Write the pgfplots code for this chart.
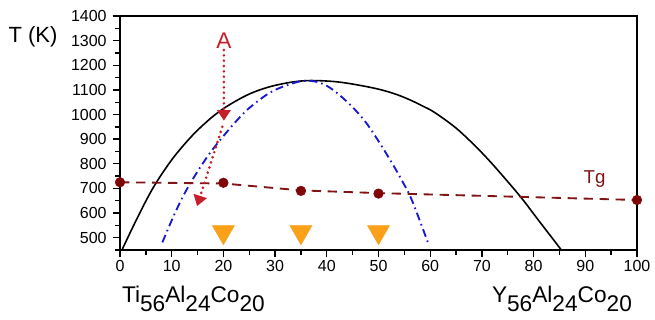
\documentclass[border=0pt]{standalone}
\usepackage{fontspec}
\setmainfont{Liberation Sans}
\usepackage{pgfplots}
\pgfplotsset{compat=1.18}
\usetikzlibrary{arrows.meta}
\definecolor{tgred}{rgb}{0.50,0.08,0.08}
\definecolor{mkred}{rgb}{0.50,0.02,0.02}
\definecolor{arrred}{rgb}{0.78,0.12,0.16}
\definecolor{triorange}{rgb}{0.98,0.63,0.10}
\definecolor{dblue}{rgb}{0.10,0.10,0.82}
\newcommand{\sub}[1]{\raisebox{-6.5pt}{#1}}
\begin{document}
\begin{tikzpicture}
\useasboundingbox (-90pt,-52.5pt) rectangle (401.25pt,187.5pt);
\begin{axis}[
  at={(0,0)}, anchor=south west,
  scale only axis, width=387.75pt, height=175.5pt,
  xmin=0, xmax=100, ymin=450, ymax=1400,
  xtick={0,10,...,100}, ytick={500,600,...,1400},
  minor xtick={5,15,...,95}, minor ytick={450,550,...,1350},
  tick pos=left, tick align=outside,
  major tick length=5.5pt, minor tick length=3.5pt,
  every tick/.style={line width=1pt, black},
  axis line style={line width=1.3pt},
  tick label style={font=\fontsize{12}{14}\selectfont},
  /pgf/number format/assume math mode=true,
  /pgf/number format/1000 sep={},
  xticklabel style={yshift=1pt},
  yticklabel style={xshift=-1pt},
]
% black curve
\addplot[black, line width=1.2pt, smooth, tension=0.6] coordinates {
 (0.4,451) (2.3,535) (4.3,620) (6.2,695) (8.2,762) (10.7,835) (14,915)
 (17,975) (19.4,1015) (22,1050) (25.2,1085) (28.5,1110) (31.7,1126)
 (34.5,1135) (37,1138) (40,1136) (42.7,1131) (46,1120) (49.8,1104)
 (53,1085) (55.7,1063) (58.5,1035) (60.8,1009) (64.7,950) (68,887)
 (71.2,818) (74.4,742) (77.7,660) (80.9,572) (85.3,452)};
% blue dash-dot
\addplot[dblue, line width=1.4pt, smooth, tension=0.6,
  dash pattern=on 6pt off 3pt on 1.2pt off 3pt] coordinates {
 (8.2,481) (10.1,575) (12,660) (14,735) (17.1,835) (20.1,915) (23,985)
 (25.2,1030) (29.1,1090) (33,1124) (36,1137) (38.8,1128) (41.4,1097)
 (44.7,1036) (47.3,975) (49.2,918) (51.2,852) (53.2,782) (54.5,733)
 (56.4,655) (59.6,478)};
% Tg line
\addplot[tgred, line width=1.4pt, dash pattern=on 7pt off 5pt] coordinates {
 (0,725) (20,720) (35,692) (50,681) (77,666) (100,653)};
\addplot[only marks, mark=*, mark size=3.6pt, mkred] coordinates {
 (0,725) (20,723) (35,690) (50,679) (100,653)};
% orange triangles
\addplot[only marks, mark=triangle*, mark size=9.5pt,
  mark options={rotate=180, fill=triorange, draw=triorange}] coordinates {
 (20,523) (35,523) (50,523)};
% red arrows
\addplot[arrred, line width=2.2pt, line cap=round, dash pattern=on 0pt off 4pt,
  -{Triangle[width=10pt,length=8pt]}] coordinates {(20.1,1262) (20.1,975)};
\addplot[arrred, line width=2.2pt, line cap=round, dash pattern=on 0pt off 4pt,
  -{Triangle[width=10pt,length=8pt]}] coordinates {(19.8,950) (14.9,628)};
\node[text=arrred, font=\fontsize{17}{19}\selectfont] at (axis cs:20.1,1301) {A};
\node[text=tgred, font=\fontsize{14}{16}\selectfont] at (axis cs:91.8,737) {Tg};
\end{axis}
\node[font=\fontsize{16.5}{19}\selectfont] at (-65.25pt,159.75pt) {T (K)};
\node[anchor=base west, inner sep=0pt, font=\fontsize{17}{19}\selectfont] at (1.3pt,-39.75pt)
  {Ti\sub{56}Al\sub{24}Co\sub{20}};
\node[anchor=base west, inner sep=0pt, font=\fontsize{17}{19}\selectfont] at (278.8pt,-39.75pt)
  {Y\sub{56}Al\sub{24}Co\sub{20}};
\end{tikzpicture}
\end{document}
